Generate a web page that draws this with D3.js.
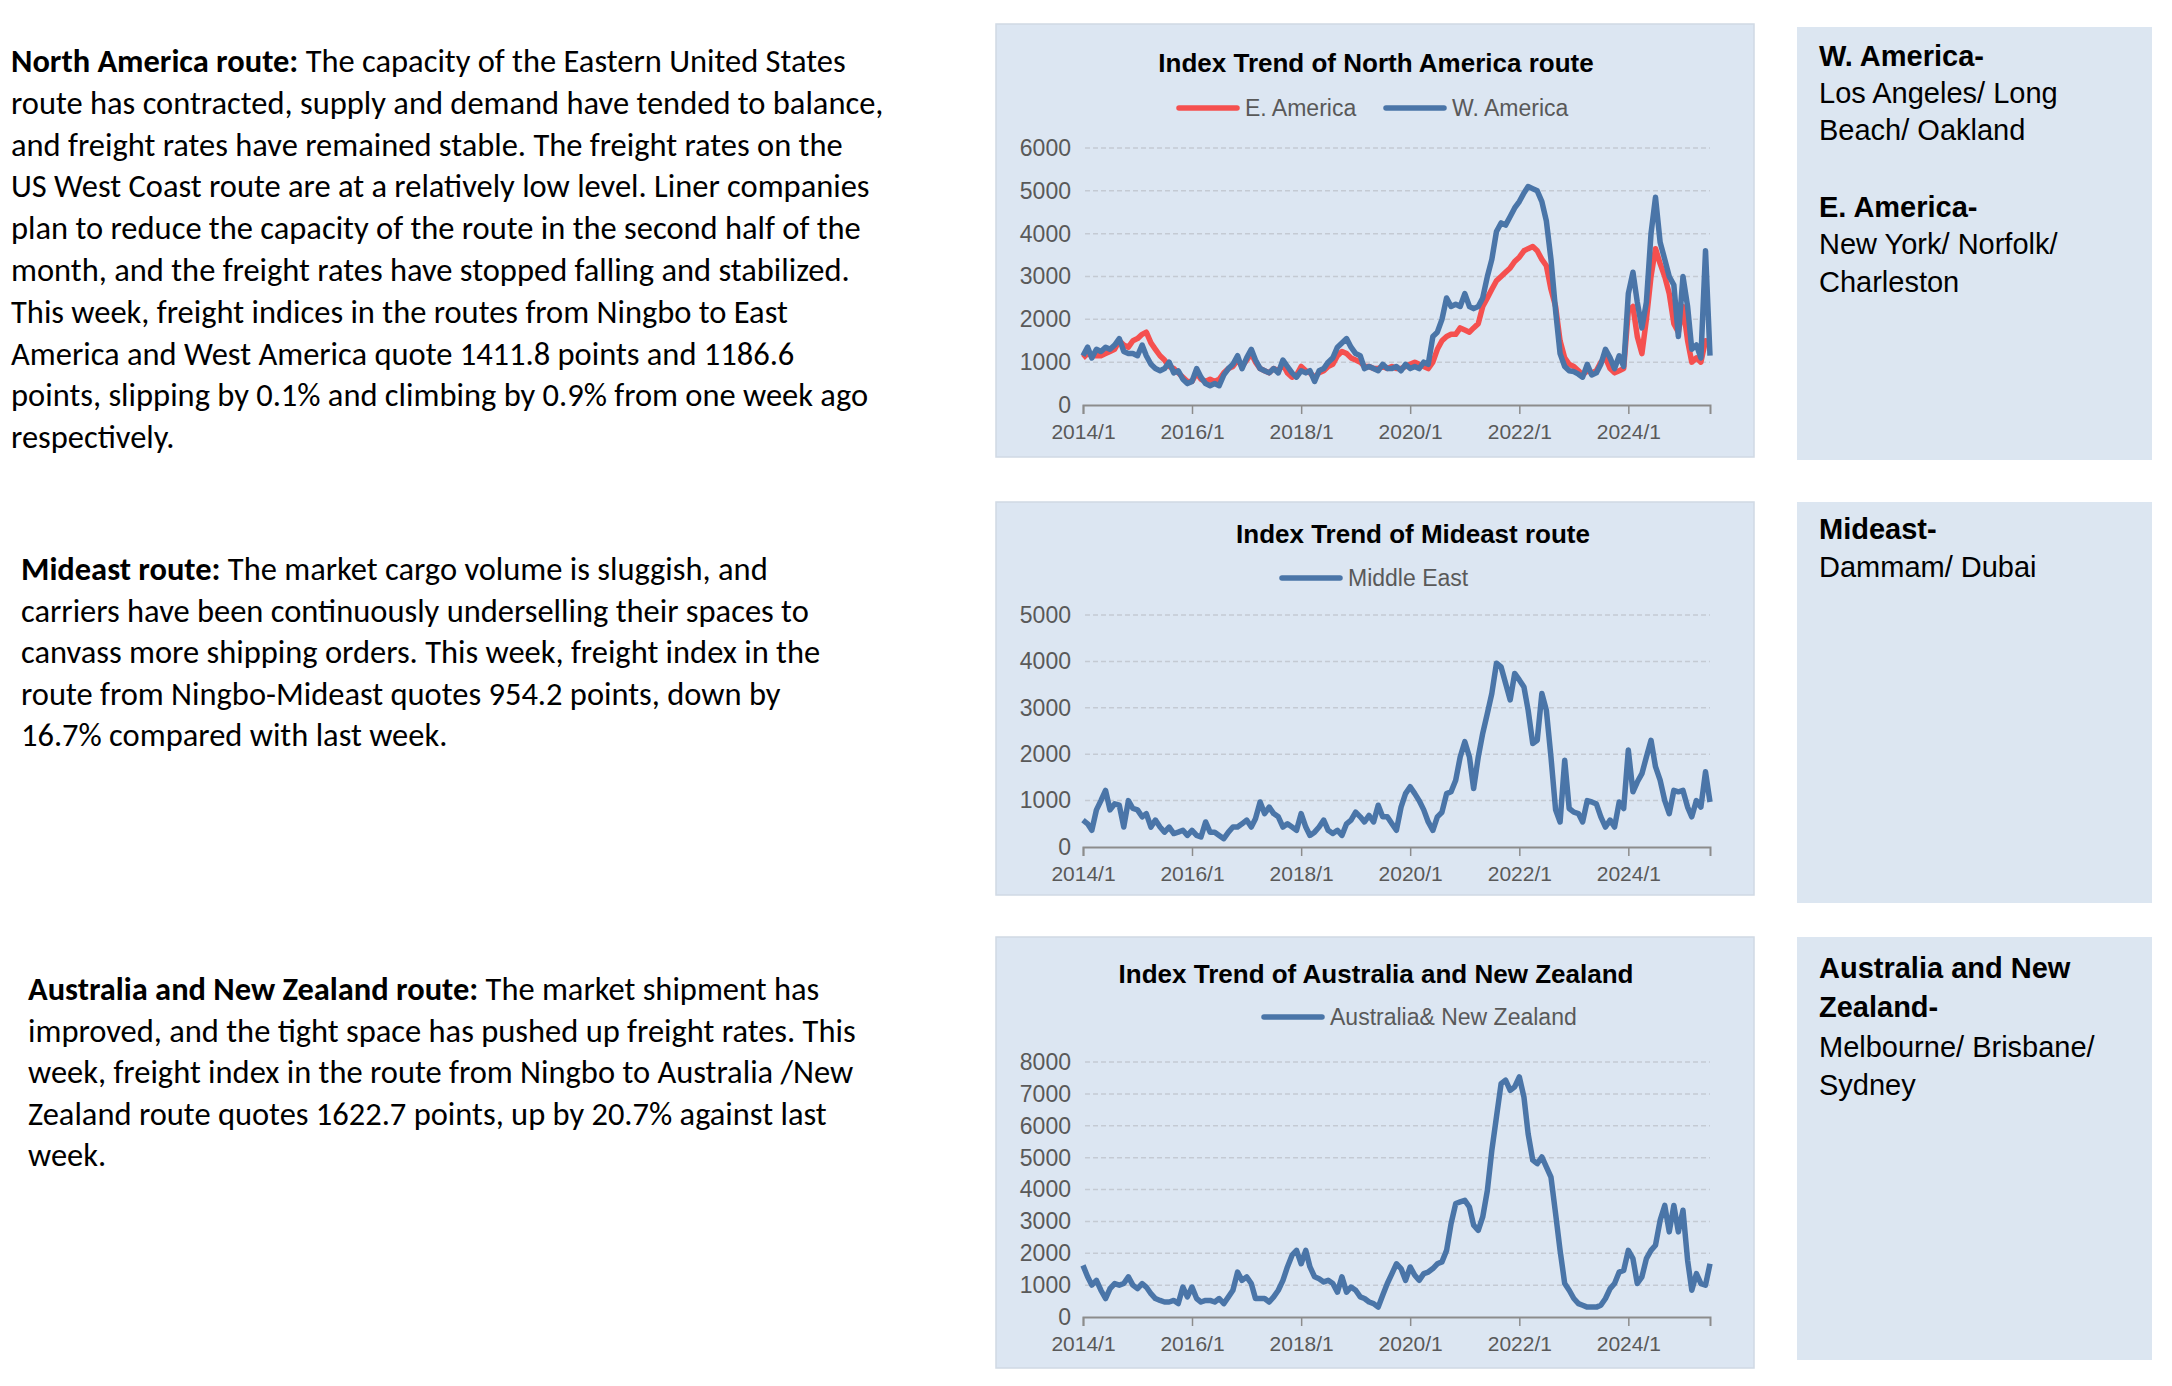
<!DOCTYPE html>
<html>
<head>
<meta charset="utf-8">
<script src="https://cdn.jsdelivr.net/npm/d3@7"></script>
<style>
  body { margin: 0; background: #fff; }
  svg { display: block; }
</style>
</head>
<body>
<div id="page"></div>
<script>
// Monthly index readings, 2014/1 .. 2025/7
const START = new Date(2014, 0, 1);
const tickYears = [2014, 2016, 2018, 2020, 2022, 2024];

const eAmerica = [
  1100,1200,1150,1150,1150,1200,1250,1300,1500,1400,1350,1500,
  1550,1650,1700,1450,1300,1150,1050,900,850,750,650,550,
  550,750,600,550,600,550,600,750,850,900,1050,900,
  1050,1200,1000,850,800,750,850,800,950,750,650,700,
  900,800,750,650,750,800,900,950,1150,1250,1200,1100,
  1050,1000,900,900,850,850,900,850,900,850,850,900,
  950,1000,950,900,850,1000,1300,1500,1600,1650,1650,1800,
  1750,1700,1800,1900,2300,2500,2700,2900,3000,3100,3200,3350,
  3450,3600,3650,3700,3600,3400,3250,2700,2300,1500,1100,950,
  900,800,700,800,750,800,1000,1100,850,750,800,850,
  2200,2300,1600,1200,2000,3000,3650,3300,3000,2600,1900,1700,
  2300,1500,1000,1100,1000,1500,1400
];
const wAmerica = [
  1150,1350,1100,1300,1250,1350,1300,1400,1550,1250,1200,1200,
  1150,1400,1150,950,850,800,850,1000,750,800,600,500,
  550,850,650,500,450,500,450,700,850,950,1150,850,
  1100,1300,1050,850,800,750,850,750,1050,900,750,650,
  800,750,800,550,800,850,1000,1100,1350,1450,1550,1350,
  1200,1150,850,900,850,800,950,850,850,900,800,950,
  850,900,850,1000,950,1600,1700,2000,2500,2300,2350,2300,
  2600,2300,2250,2300,2500,3000,3400,4050,4250,4200,4400,4600,
  4750,4950,5100,5050,5000,4750,4300,3400,2200,1200,900,800,
  780,720,650,950,700,750,950,1300,1100,850,1150,900,
  2600,3100,2400,1800,2400,4000,4850,3800,3400,3000,2800,1600,
  3000,2300,1300,1400,1100,3600,1150
];
const middleEast = [
  580,500,360,800,1000,1220,800,930,900,430,1000,830,
  800,650,720,430,580,430,320,430,290,320,360,250,
  360,250,215,540,320,320,250,180,320,430,430,500,
  580,430,610,970,720,860,720,650,430,500,430,360,
  720,430,250,320,430,580,360,290,360,250,500,580,
  750,650,540,680,540,900,650,650,500,360,860,1150,
  1300,1150,1000,800,540,360,650,750,1150,1190,1440,1940,
  2270,1940,1260,1940,2450,2880,3310,3960,3880,3530,3170,3740,
  3600,3450,2950,2230,2300,3310,2950,1940,800,540,1870,830,
  750,720,540,1000,970,930,650,430,580,430,970,830,
  2090,1190,1400,1580,1940,2300,1730,1440,1000,720,1220,1190,
  1220,860,650,1000,860,1620,970
];
const ausNz = [
  1620,1260,1000,1150,840,580,890,1050,1000,1050,1260,1000,
  890,1050,940,730,580,520,470,470,520,420,940,630,
  940,580,470,520,520,470,580,420,630,840,1410,1150,
  1260,1050,580,580,580,470,630,840,1150,1570,1940,2090,
  1670,2090,1570,1260,1200,1100,1150,1050,780,1260,780,940,
  840,630,580,470,420,310,680,1050,1360,1670,1520,1150,
  1570,1310,1150,1360,1410,1520,1670,1730,2090,2930,3560,3610,
  3660,3450,2880,2720,3140,3970,5230,6280,7320,7430,7110,7220,
  7530,6900,5750,4920,4810,5020,4710,4390,3240,2090,1050,840,
  580,420,370,310,310,310,370,580,890,1050,1410,1460,
  2090,1830,1050,1260,1830,2090,2250,3030,3500,2670,3500,2670,
  3350,1780,840,1360,1050,1000,1670
];

const naText = [
  [["North America route:", true], [" The capacity of the Eastern United States", false]],
  [["route has contracted, supply and demand have tended to balance,", false]],
  [["and freight rates have remained stable. The freight rates on the", false]],
  [["US West Coast route are at a relatively low level. Liner companies", false]],
  [["plan to reduce the capacity of the route in the second half of the", false]],
  [["month, and the freight rates have stopped falling and stabilized.", false]],
  [["This week, freight indices in the routes from Ningbo to East", false]],
  [["America and West America quote 1411.8 points and 1186.6", false]],
  [["points, slipping by 0.1% and climbing by 0.9% from one week ago", false]],
  [["respectively.", false]]
];
const meText = [
  [["Mideast route:", true], [" The market cargo volume is sluggish, and", false]],
  [["carriers have been continuously underselling their spaces to", false]],
  [["canvass more shipping orders. This week, freight index in the", false]],
  [["route from Ningbo-Mideast quotes 954.2 points, down by", false]],
  [["16.7% compared with last week.", false]]
];
const auText = [
  [["Australia and New Zealand route:", true], [" The market shipment has", false]],
  [["improved, and the tight space has pushed up freight rates. This", false]],
  [["week, freight index in the route from Ningbo to Australia /New", false]],
  [["Zealand route quotes 1622.7 points, up by 20.7% against last", false]],
  [["week.", false]]
];

const portNotes = [
  { top: 27, height: 433, lines: [["W. America-", true, 66], ["Los Angeles/ Long", false, 103], ["Beach/ Oakland", false, 140],
      ["E. America-", true, 217], ["New York/ Norfolk/", false, 254], ["Charleston", false, 292]] },
  { top: 502, height: 401, lines: [["Mideast-", true, 539], ["Dammam/ Dubai", false, 577]] },
  { top: 937, height: 423, lines: [["Australia and New", true, 978], ["Zealand-", true, 1017],
      ["Melbourne/ Brisbane/", false, 1057], ["Sydney", false, 1095]] }
];

const RED = "#f5504f";
const BLUE = "#4a75a8";

const charts = [
  { title: "Index Trend of North America route", titleX: 1376, titleY: 72,
    panel: [996, 24, 758, 433], yMax: 6000, yTop: 148, yBottom: 405, legendY: 108,
    series: [
      { name: "E. America", values: eAmerica, color: RED, lx: 1179 },
      { name: "W. America", values: wAmerica, color: BLUE, lx: 1386 }
    ] },
  { title: "Index Trend of Mideast route", titleX: 1413, titleY: 543,
    panel: [996, 502, 758, 393], yMax: 5000, yTop: 615, yBottom: 847, legendY: 578,
    series: [{ name: "Middle East", values: middleEast, color: BLUE, lx: 1282 }] },
  { title: "Index Trend of Australia and New Zealand", titleX: 1376, titleY: 983,
    panel: [996, 937, 758, 431], yMax: 8000, yTop: 1062, yBottom: 1317, legendY: 1017,
    series: [{ name: "Australia& New Zealand", values: ausNz, color: BLUE, lx: 1264 }] }
];

const W = 2172, H = 1386;
const svg = d3.select("#page").append("svg")
  .attr("width", W)
  .attr("height", H);

// ---- left commentary text ----
const bodyFont = "Carlito, Calibri, Lato, 'Open Sans', sans-serif";
const probe = svg.append("text").attr("font-family", bodyFont).attr("font-size", 20)
  .text(naText[1][0][0]);
const probeLen = probe.node().getComputedTextLength();
probe.remove();
const bodySize = 20 * 873 / probeLen;

function paragraph(lines, x, y0, pitch) {
  lines.forEach((segs, i) => {
    const t = svg.append("text")
      .attr("x", x)
      .attr("y", y0 + i * pitch)
      .attr("font-family", bodyFont)
      .attr("font-size", bodySize)
      .attr("fill", "#000");
    segs.forEach(s => {
      t.append("tspan").attr("font-weight", s[1] ? "bold" : "normal").text(s[0]);
    });
  });
}
paragraph(naText, 11, 72, 41.8);
paragraph(meText, 21, 580, 41.5);
paragraph(auText, 28, 1000, 41.5);

// ---- right port panels ----
portNotes.forEach(p => {
  svg.append("rect")
    .attr("x", 1797).attr("y", p.top)
    .attr("width", 355).attr("height", p.height)
    .attr("fill", "#dce6f1");
  p.lines.forEach(l => {
    svg.append("text")
      .attr("x", 1819).attr("y", l[2])
      .attr("font-family", "'Liberation Sans', Arial, sans-serif")
      .attr("font-size", 29)
      .attr("font-weight", l[1] ? "bold" : "normal")
      .attr("fill", "#000")
      .text(l[0]);
  });
});

// ---- charts ----
const x = d3.scaleTime()
  .domain([START, d3.timeMonth.offset(START, 138)])
  .range([1083, 1710]);

charts.forEach(c => {
  const g = svg.append("g");
  const [px, py, pw, ph] = c.panel;

  g.append("rect")
    .attr("x", px).attr("y", py)
    .attr("width", pw).attr("height", ph)
    .attr("fill", "#dce6f2")
    .attr("stroke", "#d0d9e4")
    .attr("stroke-width", 1.5);

  const y = d3.scaleLinear().domain([0, c.yMax]).range([c.yBottom, c.yTop]);
  const yTicks = d3.range(0, c.yMax + 1, 1000);

  // gridlines
  g.selectAll(".grid")
    .data(yTicks.filter(d => d > 0))
    .enter().append("line")
    .attr("x1", 1085).attr("x2", 1710)
    .attr("y1", d => y(d)).attr("y2", d => y(d))
    .attr("stroke", "#c4cad3")
    .attr("stroke-width", 1.5)
    .attr("stroke-dasharray", "5,3");

  // y axis labels
  const yAxis = g.append("g")
    .attr("transform", "translate(1071,0)")
    .call(d3.axisLeft(y).tickValues(yTicks).tickSize(0).tickPadding(0).tickFormat(d3.format("d")));
  yAxis.select(".domain").remove();
  yAxis.selectAll("text")
    .attr("font-family", "'Liberation Sans', Arial, sans-serif")
    .attr("font-size", 23)
    .attr("fill", "#595959");

  // x axis
  const xAxis = g.append("g")
    .attr("transform", `translate(0,${c.yBottom})`)
    .call(d3.axisBottom(x)
      .tickValues(tickYears.map(yr => new Date(yr, 0, 1)))
      .tickFormat(d => d.getFullYear() + "/1")
      .tickSizeOuter(0)
      .tickSize(9)
      .tickPadding(10));
  xAxis.select(".domain").attr("stroke", "#8c8c8c").attr("stroke-width", 2);
  xAxis.selectAll(".tick line").attr("stroke", "#8c8c8c").attr("stroke-width", 1.5);
  xAxis.selectAll("text")
    .attr("font-family", "'Liberation Sans', Arial, sans-serif")
    .attr("font-size", 21)
    .attr("fill", "#595959");

  // lines
  const line = d3.line()
    .x((d, i) => x(d3.timeMonth.offset(START, i)))
    .y(d => y(d));
  c.series.forEach(s => {
    g.append("path")
      .datum(s.values)
      .attr("fill", "none")
      .attr("stroke", s.color)
      .attr("stroke-width", 5.5)
      .attr("stroke-linejoin", "round")
      .attr("d", line);
  });

  // title
  g.append("text")
    .attr("x", c.titleX).attr("y", c.titleY)
    .attr("text-anchor", "middle")
    .attr("font-family", "'Liberation Sans', Arial, sans-serif")
    .attr("font-size", 26)
    .attr("font-weight", "bold")
    .attr("fill", "#000")
    .text(c.title);

  // legend
  c.series.forEach(s => {
    g.append("line")
      .attr("x1", s.lx).attr("x2", s.lx + 58)
      .attr("y1", c.legendY).attr("y2", c.legendY)
      .attr("stroke", s.color)
      .attr("stroke-width", 5.5)
      .attr("stroke-linecap", "round");
    g.append("text")
      .attr("x", s.lx + 66).attr("y", c.legendY + 8)
      .attr("font-family", "'Liberation Sans', Arial, sans-serif")
      .attr("font-size", 23)
      .attr("fill", "#595959")
      .text(s.name);
  });
});
</script>
</body>
</html>
